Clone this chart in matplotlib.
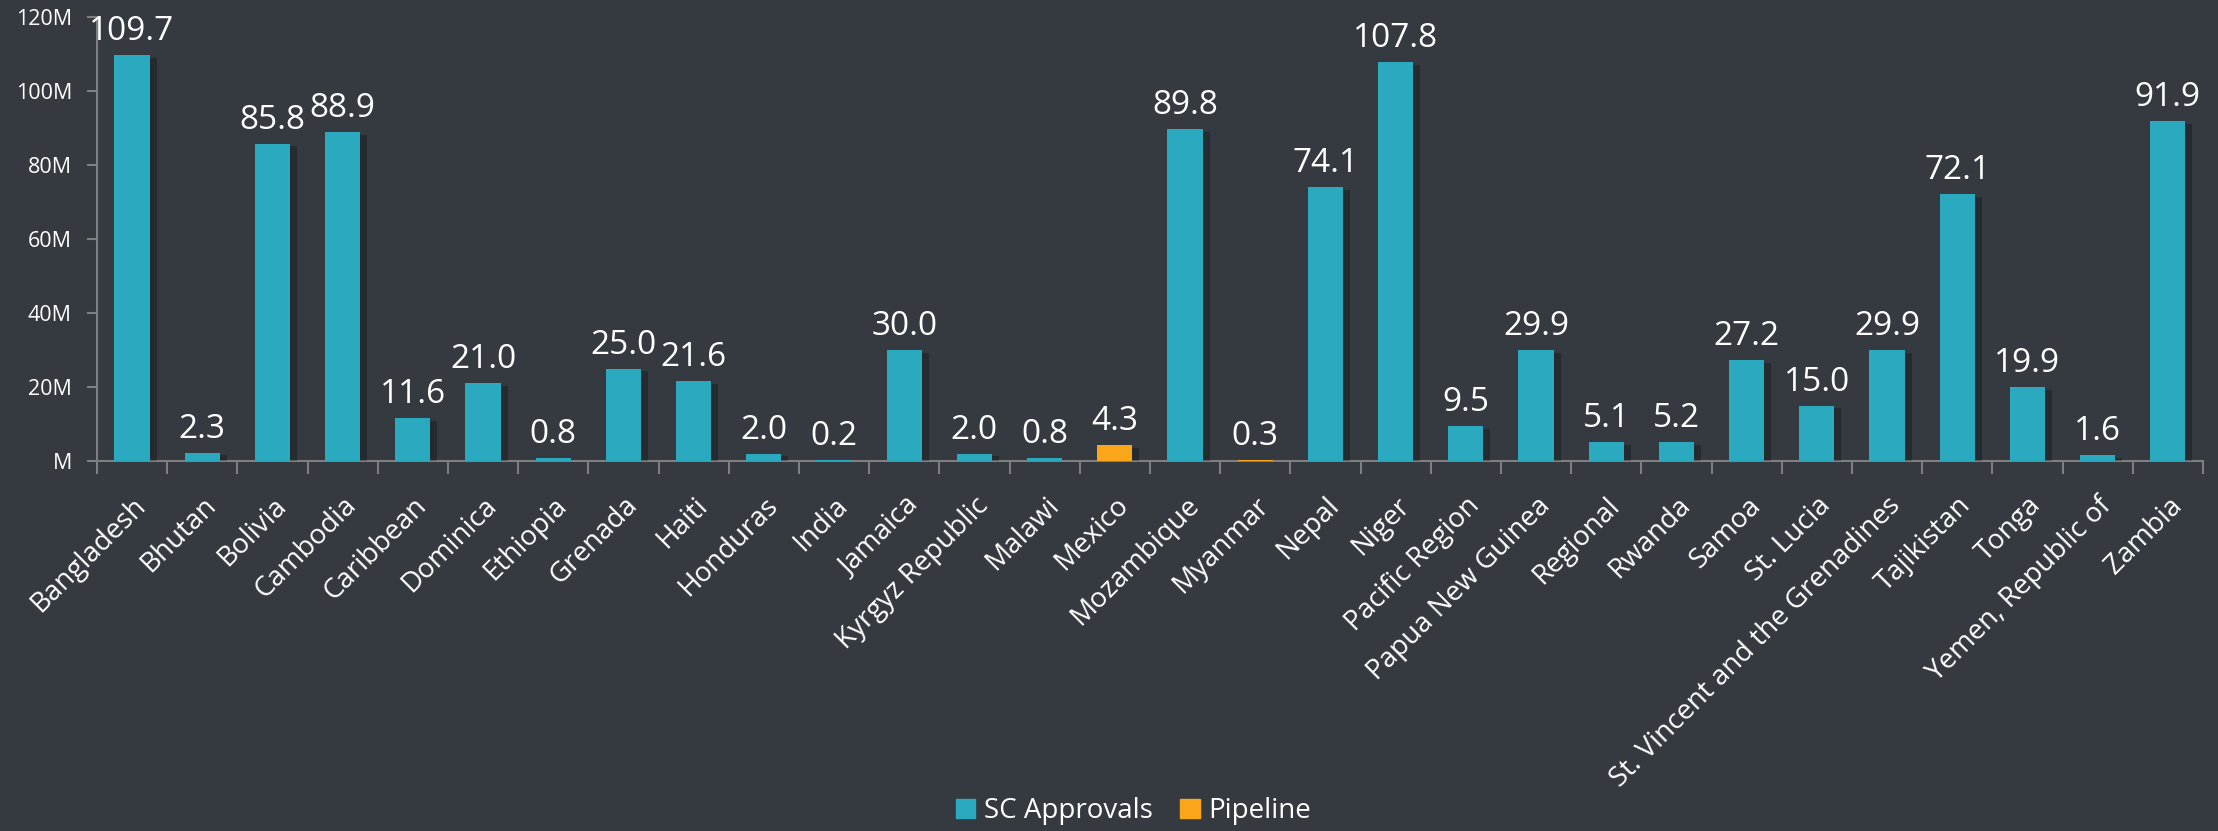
import matplotlib.pyplot as plt
import matplotlib.patheffects as pe
from matplotlib.patches import Patch
import numpy as np

plt.rcParams['font.family'] = ['Open Sans', 'DejaVu Sans']

# Data (millions)
countries = ['Bangladesh', 'Bhutan', 'Bolivia', 'Cambodia', 'Caribbean', 'Dominica',
             'Ethiopia', 'Grenada', 'Haiti', 'Honduras', 'India', 'Jamaica',
             'Kyrgyz Republic', 'Malawi', 'Mexico', 'Mozambique', 'Myanmar', 'Nepal',
             'Niger', 'Pacific Region', 'Papua New Guinea', 'Regional', 'Rwanda',
             'Samoa', 'St. Lucia', 'St. Vincent and the Grenadines', 'Tajikistan',
             'Tonga', 'Yemen, Republic of', 'Zambia']
sc_approvals = [109.7, 2.3, 85.8, 88.9, 11.6, 21.0, 0.8, 25.0, 21.6, 2.0, 0.2, 30.0,
                2.0, 0.8, 0.0, 89.8, 0.0, 74.1, 107.8, 9.5, 29.9, 5.1, 5.2, 27.2,
                15.0, 29.9, 72.1, 19.9, 1.6, 91.9]
pipeline = [0.0] * 30
pipeline[countries.index('Mexico')] = 4.3
pipeline[countries.index('Myanmar')] = 0.3

y_ticks = [0, 20, 40, 60, 80, 100, 120]

BG = '#343a40'
TEAL = '#2ba9bf'
ORANGE = '#f9a61b'
AXIS = '#7f7f7f'

fig = plt.figure(figsize=(22.18, 8.31), dpi=100, facecolor=BG)
ax = fig.add_axes([0.0437, 0.4452, 0.9495, 0.5343])
ax.set_facecolor(BG)

x = np.arange(len(countries))
shadow = [pe.SimplePatchShadow(offset=(5, -2), shadow_rgbFace='black', alpha=0.25), pe.Normal()]
b1 = ax.bar(x, sc_approvals, width=0.5, color=TEAL, zorder=3)
b2 = ax.bar(x, pipeline, width=0.5, bottom=sc_approvals, color=ORANGE, zorder=3)
for b in list(b1) + list(b2):
    if b.get_height() > 0:
        b.set_path_effects(shadow)

totals = [a + p for a, p in zip(sc_approvals, pipeline)]
for xi, t in zip(x, totals):
    ax.annotate(f'{t:.1f}', (xi, t), xytext=(0, 5), textcoords='offset points',
                ha='center', va='bottom', color='white', fontsize=24)

ax.set_xlim(-0.5, len(countries) - 0.5)
ax.set_ylim(0, 120)
ax.set_yticks(y_ticks)
ax.set_yticklabels([f'{v}M' if v else 'M' for v in y_ticks])
ax.set_xticks(np.arange(len(countries) + 1) - 0.5, minor=True)
ax.set_xticks(x)
ax.set_xticklabels(countries, rotation=45, ha='right', va='top', rotation_mode='anchor')
ax.tick_params(axis='x', which='major', length=0, pad=22, labelsize=20, colors='white')
ax.tick_params(axis='x', which='minor', length=9, width=1.5, color=AXIS)
ax.tick_params(axis='y', length=7, width=1.5, color=AXIS, labelsize=15.5, labelcolor='white', pad=11)

for side in ['top', 'right']:
    ax.spines[side].set_visible(False)
for side in ['left', 'bottom']:
    ax.spines[side].set_color(AXIS)
    ax.spines[side].set_linewidth(1.5)

handles = [Patch(color=TEAL, label='SC Approvals'), Patch(color=ORANGE, label='Pipeline')]
fig.legend(handles=handles, loc='center', bbox_to_anchor=(0.511, 0.024), ncol=2,
           frameon=False, fontsize=20, labelcolor='white', handlelength=0.7,
           handleheight=0.7, handletextpad=0.3, columnspacing=1.0)

fig.savefig('out.png', dpi=100, facecolor=BG)
